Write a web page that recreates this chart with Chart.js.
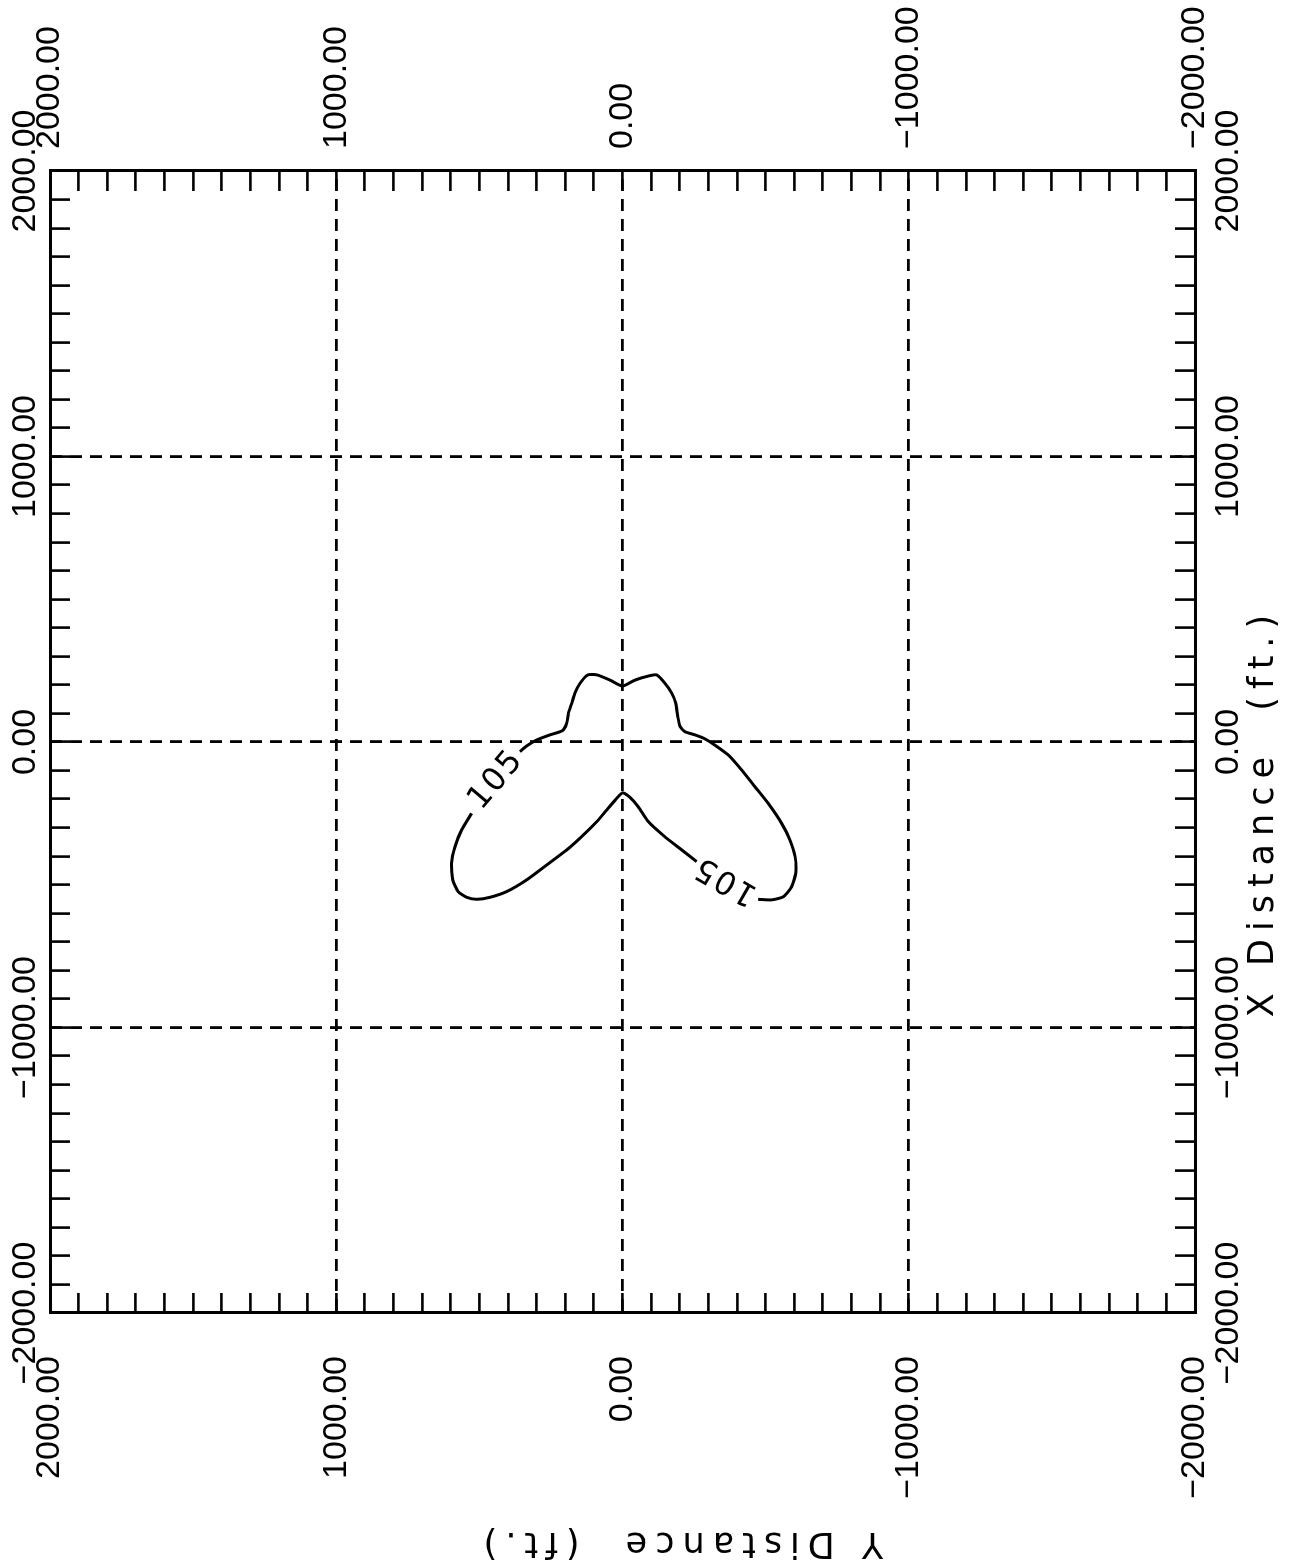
<!DOCTYPE html>
<html>
<head>
<meta charset="utf-8">
<script src="https://cdn.jsdelivr.net/npm/chart.js@4.4.1/dist/chart.umd.min.js"></script>
<style>
  html, body { margin: 0; padding: 0; background: #fff; overflow: hidden; width: 1301px; height: 1563px; }
  #wrap { position: absolute; left: 0; top: 0; width: 1301px; height: 1563px; overflow: hidden; background: #fff; }
  #box { position: absolute; left: 0; top: 0; width: 1563px; height: 1301px;
         transform-origin: 0 0; transform: translate(0, 1563px) rotate(-90deg); }
  canvas { background: #fff; }
</style>
</head>
<body>
<div id="wrap"><div id="box"><canvas id="c" width="1563" height="1301"></canvas></div></div>
<script>
// ---------- data ----------
const axisMin = -2000;
const axisMax = 2000;
const minorStep = 100;
const majorTicks = [-2000, -1000, 0, 1000, 2000];
const majorTickLabels = ['\u22122000.00', '\u22121000.00', '0.00', '1000.00', '2000.00'];
const xTitle = 'X Distance  (ft.)';
const yTitle = 'Y Distance  (ft.)';
const contourLevel = '105';

// 105 contour, outer/upper branch (X ft, Y ft)
const upperX = [-34, -14, 7, 25, 36, 42, 65, 101, 136, 171, 206, 235, 235, 217, 196, 217, 231, 235, 206, 171,
                136, 89, 54, 36, 25, 11, -11, -46, -98, -157, -215, -285, -343, -402, -460, -507, -542, -553, -551];
const upperY = [358, 335, 300, 253, 218, 207, 195, 189, 177, 166, 148, 121, 89, 44, 0, -44, -90, -119, -148, -172,
                -186, -193, -201, -218, -253, -288, -323, -370, -416, -463, -509, -556, -585, -603, -605, -591, -562, -521, -474];
// 105 contour, inner/lower branch
const lowerX = [-419, -378, -332, -279, -227, -194, -178, -197, -232, -279, -326, -378, -431, -483, -524, -544,
                -551, -544, -524, -483, -425, -367, -308, -250];
const lowerY = [-259, -207, -148, -90, -55, -26, 0, 20, 50, 90, 137, 195, 265, 335, 405, 463,
                509, 544, 574, 593, 597, 585, 562, 527];
// contour level labels (position in ft, angle in degrees)
const labelX = [-133, -483];
const labelY = [440, -362];
const labelAngle = [40, -60];

// ---------- helpers ----------
const toPoints = (xs, ys) => xs.map((v, i) => ({ x: v, y: ys[i] }));
const tickLabel = (v) => {
  const i = majorTicks.indexOf(v);
  return i >= 0 ? majorTickLabels[i] : '';
};
const gridColor = (ctx) => {
  const t = ctx.tick;
  if (!t) return 'rgba(0,0,0,0)';
  return (Math.abs(t.value) < axisMax && majorTicks.includes(t.value)) ? '#000' : 'rgba(0,0,0,0)';
};
const tickFont = { family: '"Liberation Sans", Arial, sans-serif', size: 34 };
const titleFont = { family: '"DejaVu Sans", sans-serif', size: 35 };

function makeAxis(position, padding, size, onArea, title) {
  const horiz = position === 'top' || position === 'bottom';
  return {
    type: 'linear',
    position: position,
    min: axisMin,
    max: axisMax,
    ticks: {
      stepSize: minorStep,
      autoSkip: false,
      maxRotation: 0,
      minRotation: 0,
      padding: padding,
      color: '#000',
      font: tickFont,
      callback: tickLabel
    },
    grid: {
      display: true,
      drawOnChartArea: onArea,
      drawTicks: true,
      tickLength: -20,
      tickWidth: 2.6,
      tickColor: '#000',
      color: gridColor,
      lineWidth: 2.8
    },
    border: { display: true, color: '#000', width: 3, dash: [12, 8] },
    title: title ? {
      display: true,
      text: title.text,
      color: '#000',
      font: titleFont,
      padding: title.padding
    } : { display: false },
    afterFit: (s) => {
      if (horiz) { s.height = size; } else { s.width = size; }
      s.paddingTop = 0; s.paddingBottom = 0; s.paddingLeft = 0; s.paddingRight = 0;
    }
  };
}

// shift / spacing of axis titles
const titleShift = { x: [-70, 0], y: [0, 57] };
const titlePatch = {
  id: 'titlePatch',
  beforeDraw(chart) {
    Object.values(chart.scales).forEach((s) => {
      if (s._titlePatched) return;
      const orig = s.drawTitle;
      s.drawTitle = function () {
        const c = this.ctx;
        c.save();
        if ('letterSpacing' in c) c.letterSpacing = '8px';
        const sh = titleShift[this.id] || [0, 0];
        c.translate(sh[0], sh[1]);
        orig.call(this);
        c.restore();
      };
      s._titlePatched = true;
    });
  }
};

const contourLabels = {
  id: 'contourLabels',
  afterDatasetsDraw(chart) {
    const { ctx } = chart;
    const xs = chart.scales.x, ys = chart.scales.y;
    ctx.save();
    ctx.font = '32px "DejaVu Sans", sans-serif';
    if ('letterSpacing' in ctx) ctx.letterSpacing = '2px';
    ctx.fillStyle = '#000';
    ctx.textAlign = 'center';
    ctx.textBaseline = 'middle';
    labelX.forEach((v, i) => {
      ctx.save();
      ctx.translate(xs.getPixelForValue(v), ys.getPixelForValue(labelY[i]));
      ctx.rotate(labelAngle[i] * Math.PI / 180);
      ctx.fillText(contourLevel, 0, 0);
      ctx.restore();
    });
    ctx.restore();
  }
};

const lineStyle = {
  showLine: true,
  borderColor: '#000',
  backgroundColor: '#000',
  borderWidth: 3,
  pointRadius: 0,
  tension: 0.2,
  fill: false
};

new Chart(document.getElementById('c'), {
  type: 'scatter',
  data: {
    datasets: [
      Object.assign({ label: contourLevel, data: toPoints(upperX, upperY) }, lineStyle),
      Object.assign({ label: contourLevel, data: toPoints(lowerX, lowerY) }, lineStyle)
    ]
  },
  options: {
    responsive: false,
    animation: false,
    events: [],
    layout: { padding: 0 },
    plugins: { legend: { display: false }, tooltip: { enabled: false } },
    scales: {
      x: makeAxis('bottom', 33, 106, true, { text: xTitle, padding: { top: 0, bottom: 16 } }),
      x2: makeAxis('top', 24, 50, false, null),
      y: makeAxis('left', 63, 250, true, { text: yTitle, padding: { top: 0, bottom: 0 } }),
      y2: makeAxis('right', 42, 171, false, null)
    }
  },
  plugins: [titlePatch, contourLabels]
});
</script>
</body>
</html>
